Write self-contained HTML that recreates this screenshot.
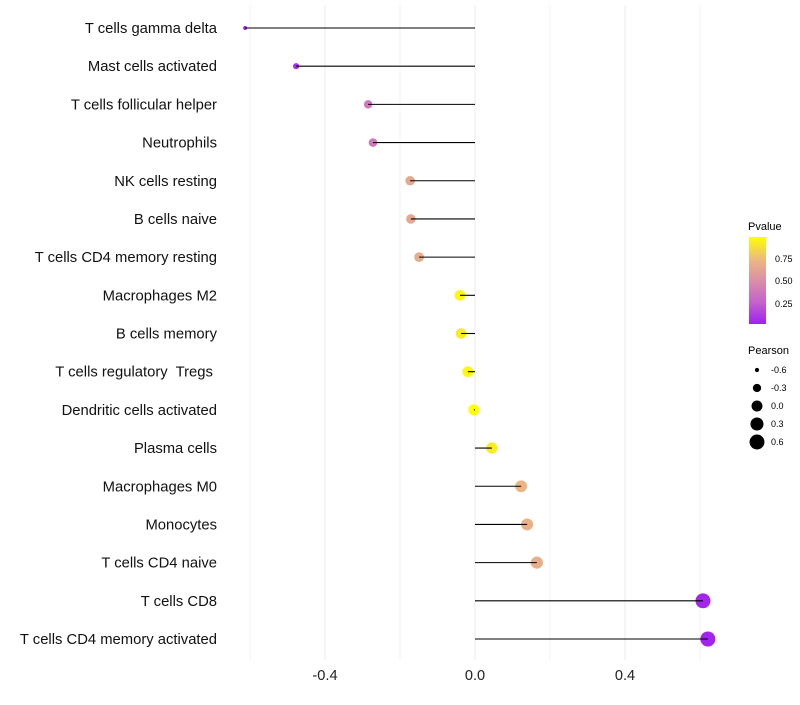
<!DOCTYPE html>
<html><head><meta charset="utf-8"><style>
body{margin:0;background:#fff;font-family:"Liberation Sans",sans-serif}
text{white-space:pre}
</style></head><body>
<svg id="chart" width="800" height="700" xmlns="http://www.w3.org/2000/svg" font-family="Liberation Sans, sans-serif">
<defs><linearGradient id="pg" x1="0" y1="1" x2="0" y2="0">
<stop offset="0" stop-color="#a020f0"/><stop offset="0.25" stop-color="#c462cc"/><stop offset="0.5" stop-color="#da8fa8"/><stop offset="0.75" stop-color="#eeba7e"/><stop offset="1" stop-color="#ffff00"/></linearGradient></defs>
<g id="grid"></g><g id="marks"></g><g id="stems"></g><g id="labels"></g>
<g>
<text x="748" y="230" font-size="11">Pvalue</text>
<rect x="749" y="237" width="17" height="87" fill="url(#pg)"/>
<text x="775" y="262" font-size="9">0.75</text>
<text x="775" y="284" font-size="9">0.50</text>
<text x="775" y="307" font-size="9">0.25</text>
</g>
<g id="sizeleg">
<text x="748" y="354" font-size="11">Pearson</text>
</g>
</svg>
<script>
const categories=["T cells gamma delta","Mast cells activated","T cells follicular helper","Neutrophils","NK cells resting","B cells naive","T cells CD4 memory resting","Macrophages M2","B cells memory","T cells regulatory  Tregs ","Dendritic cells activated","Plasma cells","Macrophages M0","Monocytes","T cells CD4 naive","T cells CD8","T cells CD4 memory activated"];
const pearson=[-0.613,-0.477,-0.285,-0.272,-0.173,-0.171,-0.149,-0.04,-0.037,-0.019,-0.003,0.045,0.123,0.139,0.165,0.608,0.621];
const pvalue=[0.0,0.05,0.37,0.37,0.64,0.64,0.66,0.97,0.93,0.97,1.0,0.93,0.72,0.7,0.68,0.02,0.02];
const xTicks=[-0.4,0,0.4];
const xTickLabels=["-0.4","0.0","0.4"];
const minorTicks=[-0.6,-0.2,0.2,0.6];
const legendVals=[-0.6,-0.3,0.0,0.3,0.6];
const legendLabels=["-0.6","-0.3","0.0","0.3","0.6"];
const NS="http://www.w3.org/2000/svg";
const xs=v=>475+v*375;
const ys=i=>28+i*(639-28)/16;
const rs=v=>Math.sqrt(Math.max(2,30+42.6*v));
const stops=[[0,[160,32,240]],[0.25,[196,98,204]],[0.5,[218,143,168]],[0.75,[238,186,126]],[1,[255,255,0]]];
function col(p){for(let k=1;k<stops.length;k++){if(p<=stops[k][0]){const a=stops[k-1],b=stops[k],t=(p-a[0])/(b[0]-a[0]);return "rgb("+a[1].map((c,j)=>Math.round(c+(b[1][j]-c)*t)).join(",")+")";}}return "rgb(255,255,0)";}
function mk(t,at,parent){const e=document.createElementNS(NS,t);for(const k in at)e.setAttribute(k,at[k]);parent.appendChild(e);return e;}
const grid=document.getElementById('grid'),marks=document.getElementById('marks'),stems=document.getElementById('stems'),labels=document.getElementById('labels');
minorTicks.forEach(v=>{const l=mk('line',{x1:xs(v),x2:xs(v),y1:5,y2:660,stroke:'#f3f3f3','stroke-width':1},grid);

});
xTicks.forEach((v,i)=>{const l=mk('line',{x1:xs(v),x2:xs(v),y1:5,y2:660,stroke:'#ebebeb','stroke-width':1},grid);


const t=mk('text',{x:xs(v),y:680,'text-anchor':'middle','font-size':14.6,fill:'#222'},labels);t.textContent=xTickLabels[i];

});
categories.forEach((c,i)=>{const y=ys(i);
const t=mk('text',{x:217,y:y+5,'text-anchor':'end','font-size':14.8,fill:'#111'},labels);t.textContent=c;


const d=mk('circle',{cx:xs(pearson[i]),cy:y,r:rs(pearson[i]),fill:col(pvalue[i])},marks);


const l=mk('line',{x1:xs(0),x2:xs(pearson[i]),y1:y,y2:y,stroke:'#000','stroke-width':1.1},stems);

});
const sl=document.getElementById('sizeleg');
legendVals.forEach((v,i)=>{const y=370+i*18;
const d=mk('circle',{cx:757,cy:y,r:rs(v),fill:'#000'},sl);


const t=mk('text',{x:771,y:y+3,'font-size':9},sl);t.textContent=legendLabels[i];

});
</script>
</body></html>
